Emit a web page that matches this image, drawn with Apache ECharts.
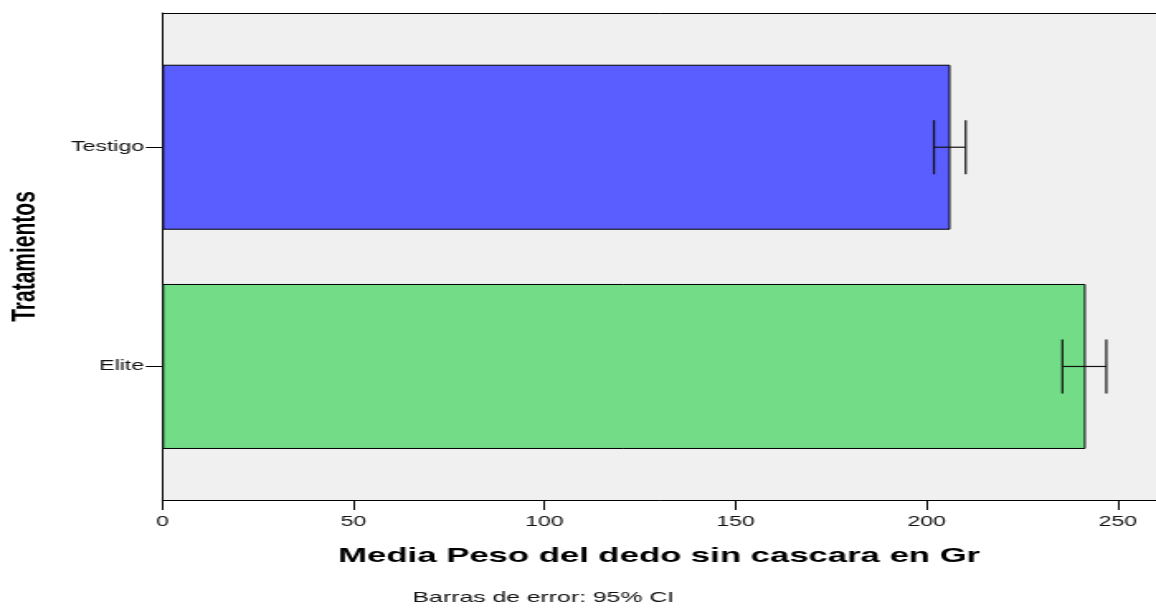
<!DOCTYPE html>
<html>
<head>
<meta charset="utf-8">
<script src="https://cdn.jsdelivr.net/npm/echarts@6/dist/echarts.min.js"></script>
<style>
  html, body { margin: 0; padding: 0; background: #fff; overflow: hidden; }
  /* The chart is laid out on a narrower canvas and widened to the page width. */
  #chart { width: 700px; height: 611px; transform: scaleX(1.6514); transform-origin: 0 0; }
</style>
</head>
<body>
<div id="chart"></div>
<script>
// Treatments (bottom to top) and mean finger weight without peel, with 95% CI
const categories = ['Elite', 'Testigo'];
const means = [241.6, 206.2];
const ciLow = [235.5, 201.9];
const ciHigh = [247.0, 210.2];
const xTicks = [0, 50, 100, 150, 200, 250];
const barColors = ['#72DD86', '#5B5EFF'];

const FONT = 'Liberation Sans, Arial, sans-serif';
const gridLeft = 98.3;

const chart = echarts.init(document.getElementById('chart'));

const errorData = categories.map((c, i) => [i, ciLow[i], ciHigh[i]]);

chart.setOption({
  animation: false,
  backgroundColor: '#ffffff',
  grid: [
    // plot frame
    { left: gridLeft, right: 0, top: 13, bottom: 111, show: true, backgroundColor: '#F0F0F0', borderWidth: 0, outerBoundsMode: 'none', containLabel: false },
    // bar band area
    { left: gridLeft, right: 0, top: 37.6, bottom: 134.9, outerBoundsMode: 'none', containLabel: false }
  ],
  xAxis: [
    {
      gridIndex: 0, type: 'value', min: 0, max: 260, interval: 50,
      axisLine: { show: true, onZero: false, lineStyle: { color: '#000', width: 1 } },
      axisTick: { show: true, length: 10, customValues: xTicks, lineStyle: { color: '#000', width: 1 } },
      axisLabel: { customValues: xTicks, margin: 15, fontFamily: FONT, fontSize: 14, color: '#111' },
      splitLine: { show: false },
      name: 'Media Peso del dedo sin cascara en Gr',
      nameLocation: 'middle', nameGap: 46,
      nameTextStyle: { fontFamily: FONT, fontSize: 21, fontWeight: 'bold', color: '#000' }
    },
    {
      gridIndex: 0, type: 'value', min: 0, max: 260, position: 'top',
      axisLine: { show: true, onZero: false, lineStyle: { color: '#000', width: 1 } },
      axisTick: { show: false }, axisLabel: { show: false }, splitLine: { show: false }
    },
    {
      gridIndex: 1, type: 'value', min: 0, max: 260, show: false, splitLine: { show: false }
    }
  ],
  yAxis: [
    {
      gridIndex: 0, type: 'value', min: 0, max: 1,
      axisLine: { show: true, onZero: false, lineStyle: { color: '#000', width: 1 } },
      axisTick: { show: false }, axisLabel: { show: false }, splitLine: { show: false },
      name: 'Tratamientos', nameLocation: 'middle', nameGap: 73, nameRotate: 90,
      nameTextStyle: { fontFamily: FONT, fontSize: 21, fontWeight: 'bold', color: '#000' }
    },
    {
      gridIndex: 1, type: 'category', data: categories,
      axisLine: { show: false, onZero: false },
      axisTick: { show: true, alignWithLabel: true, length: 10, lineStyle: { color: '#000', width: 1 } },
      axisLabel: { margin: 11, fontFamily: FONT, fontSize: 14, color: '#111' },
      splitLine: { show: false }
    }
  ],
  graphic: [
    {
      type: 'text', z: 10, x: 329, y: 598,
      style: {
        text: 'Barras de error: 95% CI',
        font: '15px ' + FONT, fill: '#111',
        textAlign: 'center', textVerticalAlign: 'middle'
      }
    }
  ],
  series: [
    {
      type: 'bar', xAxisIndex: 2, yAxisIndex: 1,
      barWidth: 165,
      data: means.map((v, i) => ({ value: v, itemStyle: { color: barColors[i] } })),
      itemStyle: { borderColor: '#000', borderWidth: 1 },
      z: 2
    },
    {
      type: 'custom', xAxisIndex: 2, yAxisIndex: 1, z: 5,
      encode: { x: [1, 2], y: 0 },
      data: errorData,
      renderItem: function (params, api) {
        const cat = api.value(0);
        const lo = api.coord([api.value(1), cat]);
        const hi = api.coord([api.value(2), cat]);
        const h = 27;
        const st = { stroke: '#111', lineWidth: 1.2 };
        return {
          type: 'group',
          children: [
            { type: 'line', shape: { x1: lo[0], y1: lo[1], x2: hi[0], y2: hi[1] }, style: st },
            { type: 'line', shape: { x1: lo[0], y1: lo[1] - h, x2: lo[0], y2: lo[1] + h }, style: st },
            { type: 'line', shape: { x1: hi[0], y1: hi[1] - h, x2: hi[0], y2: hi[1] + h }, style: st }
          ]
        };
      }
    }
  ]
});
</script>
</body>
</html>
